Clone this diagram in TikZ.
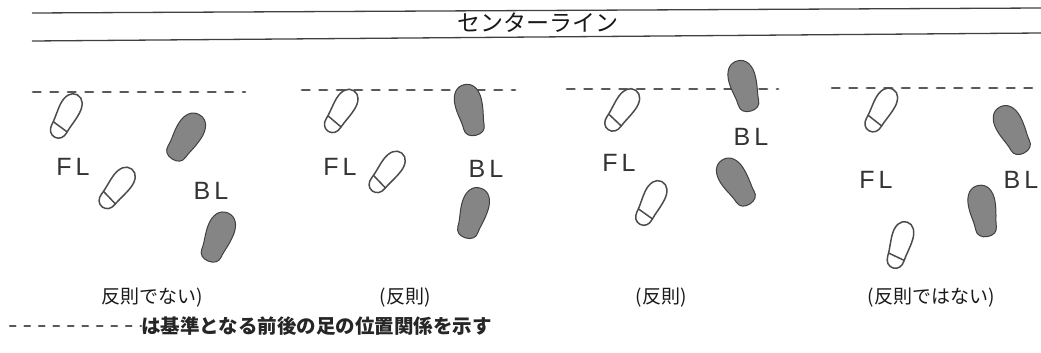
\documentclass[tikz,border=0pt]{standalone}
\usepackage{fontspec}
\setmainfont{Liberation Sans}
\newfontfamily\jpfont{Noto Sans CJK JP}

\begin{document}
\begin{tikzpicture}[x=1pt,y=-1pt,
            rule/.style={draw=black!75,line width=1.3pt},
            guide/.style={draw=black!65,line width=2.8pt,line cap=round,dash pattern=on 7.5pt off 10pt},
            foot label/.style={text=black!80,font=\fontsize{25}{28}\selectfont},
            caption/.style={text=black!90,font=\jpfont\fontsize{19}{22}\selectfont},
            open foot/.pic={
                \draw[draw=black!70,line width=1.5pt]
                    (0,-24) .. controls (7,-24) and (10.5,-17) .. (10.5,-9)
                    .. controls (10.5,0) and (8.5,8) .. (8.5,14)
                    .. controls (8.5,20) and (5,24) .. (0,24)
                    .. controls (-5,24) and (-8.5,20) .. (-8.5,14)
                    .. controls (-8.5,6) and (-10.5,-1) .. (-10.5,-9)
                    .. controls (-10.5,-17) and (-7,-24) .. (0,-24) -- cycle;
                \draw[draw=black!70,line width=1.5pt] (-8.5,11) -- (8.5,13.5);
            },
            solid foot/.pic={
                \draw[draw=black!75,fill=black!48,line width=1pt]
                    (0,-26) .. controls (9,-26) and (13.5,-18) .. (13.5,-8)
                    .. controls (13.5,3) and (10.5,12) .. (10.5,17)
                    .. controls (10.5,23) and (6,26) .. (0,26)
                    .. controls (-6,26) and (-10.5,23) .. (-10.5,17)
                    .. controls (-10.5,9) and (-13.5,2) .. (-13.5,-8)
                    .. controls (-13.5,-18) and (-9,-26) .. (0,-26) -- cycle;
            }]

        \useasboundingbox (0,0) rectangle (1041,353);

        % Center line band
        \coordinate (topl) at (32,13);
        \coordinate (topr) at (1041,8);
        \coordinate (botl) at (32,41);
        \coordinate (botr) at (1041,33);
        \draw[rule] (topl) -- (topr);
        \draw[rule] (botl) -- (botr);
        \node[text=black!90,font=\jpfont\fontsize{23}{25}\selectfont] (center) at (538,23) {センターライン};

        % Reference lines
        \coordinate (g1a) at (33,92);
        \coordinate (g1b) at (245,92);
        \coordinate (g2a) at (302,90);
        \coordinate (g2b) at (515,90);
        \coordinate (g3a) at (567,89);
        \coordinate (g3b) at (778,89);
        \coordinate (g4a) at (832,88);
        \coordinate (g4b) at (1041,88);
        \draw[guide] (g1a) -- (g1b);
        \draw[guide] (g2a) -- (g2b);
        \draw[guide] (g3a) -- (g3b);
        \draw[guide] (g4a) -- (g4b);

        % Case 1
        \pic[rotate=-28] at (66,116) {open foot};
        \pic[rotate=-38] at (117,188) {open foot};
        \pic[rotate=-32] at (186,137) {solid foot};
        \pic[rotate=-22] at (218,237) {solid foot};
        \node[foot label] (fl1) at (73,167) {F\hspace{4pt}L};
        \node[foot label] (bl1) at (211,191) {B\hspace{4pt}L};
        \node[caption] (cap1) at (152,298) {反則でない)};

        % Case 2
        \pic[rotate=-32] at (341,111) {open foot};
        \pic[rotate=-38] at (387,172) {open foot};
        \pic[rotate=13] at (470,110) {solid foot};
        \pic[rotate=-17] at (473,213) {solid foot};
        \node[foot label] (fl2) at (340,167) {F\hspace{4pt}L};
        \node[foot label] (bl2) at (486,169) {B\hspace{4pt}L};
        \node[caption] (cap2) at (405,298) {(反則)};

        % Case 3
        \pic[rotate=-35] at (622,110) {open foot};
        \pic[rotate=-27] at (651,203) {open foot};
        \pic[rotate=15] at (744,86) {solid foot};
        \pic[rotate=32] at (736,182) {solid foot};
        \node[foot label] (fl3) at (619,163) {F\hspace{4pt}L};
        \node[foot label] (bl3) at (751,137) {B\hspace{4pt}L};
        \node[caption] (cap3) at (661,298) {(反則)};

        % Case 4
        \pic[rotate=-30] at (881,110) {open foot};
        \pic[rotate=-17] at (900,245) {open foot};
        \pic[rotate=28] at (1012,130) {solid foot};
        \pic[rotate=10] at (983,211) {solid foot};
        \node[foot label] (fl4) at (876,180) {F\hspace{4pt}L};
        \node[foot label] (bl4) at (1021,180) {B\hspace{4pt}L};
        \node[caption] (cap4) at (931,298) {(反則ではない)};

        % Legend
        \coordinate (leg) at (10,326);
        \node[anchor=west,text=black!85,font=\jpfont\bfseries\fontsize{19.5}{22}\selectfont,inner sep=0pt] (legend) at (141,326) {は基準となる前後の足の位置関係を示す};
        \draw[guide,line width=2.2pt,dash pattern=on 5.5pt off 9pt] (leg) -- (legend.west);

\end{tikzpicture}
\end{document}
